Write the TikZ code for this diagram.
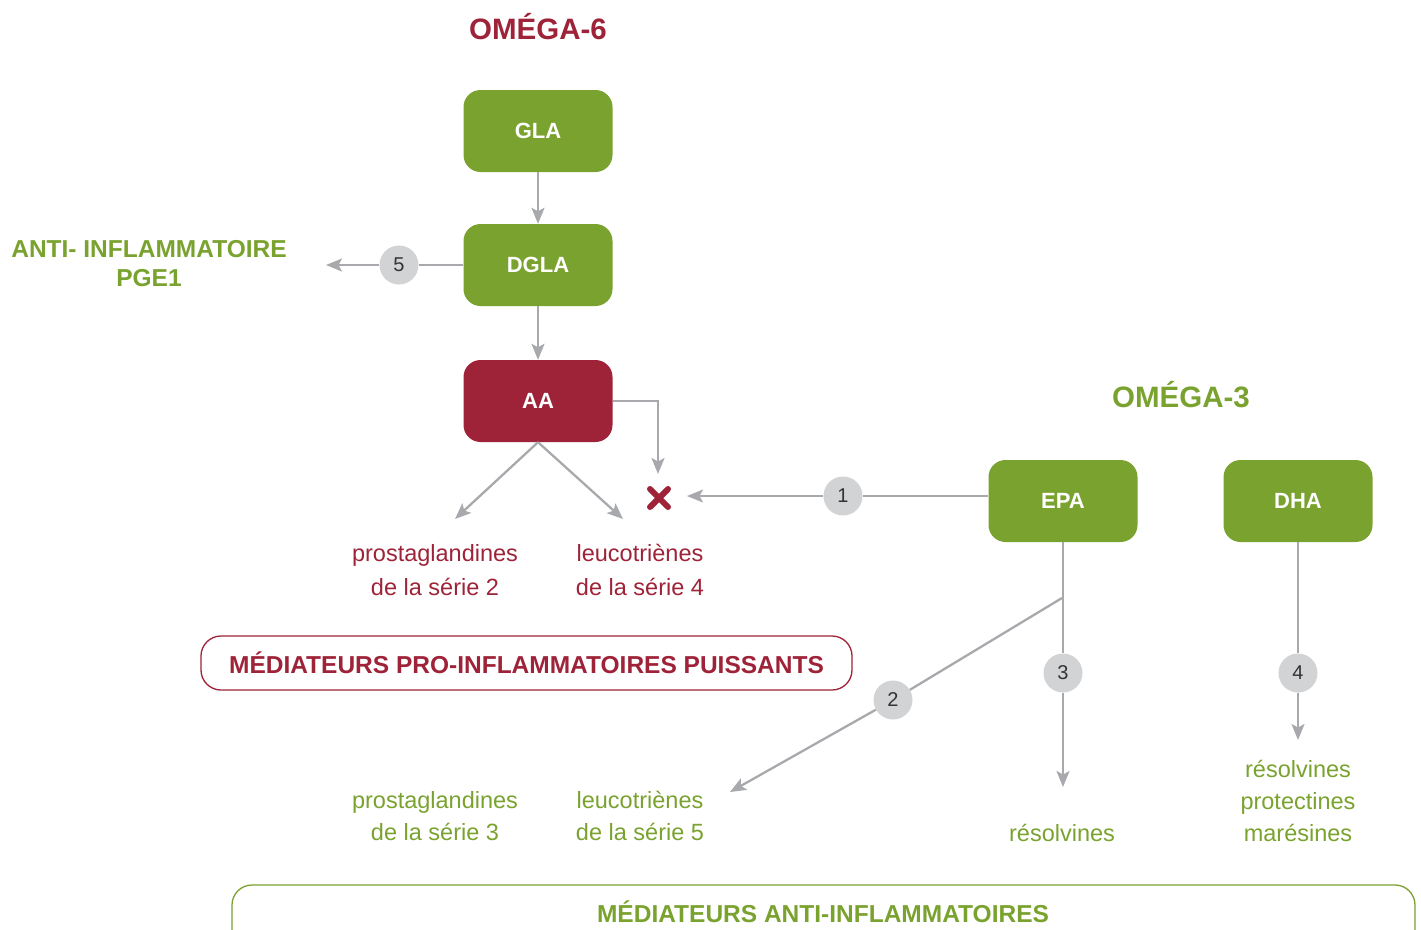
\documentclass[tikz,border=0pt]{standalone}
\usepackage{fontspec}
\setmainfont{Liberation Sans}
\usetikzlibrary{arrows.meta,shapes.misc}
\definecolor{ogreen}{HTML}{7AA22F}
\definecolor{ored}{HTML}{9E2338}
\definecolor{agray}{HTML}{A7A9AC}
\definecolor{cgray}{HTML}{D1D3D4}
\definecolor{numtxt}{HTML}{333333}
\begin{document}
\begin{tikzpicture}[x=1pt,y=-1pt,
  acid/.style={rounded corners=17pt, minimum width=149pt, minimum height=82pt, text=white, font=\bfseries\fontsize{22}{22}\selectfont, inner sep=0pt},
  gbox/.style={acid, fill=ogreen},
  rbox/.style={acid, fill=ored},
  num/.style={circle, fill=cgray, minimum size=39pt, inner sep=0pt, text=numtxt, font=\fontsize{20}{20}\selectfont},
  conn/.style={agray, line width=2.3pt},
  arr/.style={conn, -{Stealth[length=16pt,width=13pt,inset=3.5pt]}},
  title/.style={font=\bfseries\fontsize{29.5}{29.5}\selectfont},
  lbl/.style={font=\fontsize{23.5}{32}\selectfont, align=center},
  lblr/.style={font=\fontsize{23.5}{34}\selectfont, align=center},
  banner/.style={font=\bfseries\fontsize{24.5}{24.5}\selectfont}
]
\useasboundingbox (0,0) rectangle (1421,929);

% titles
\node[title, text=ored] (om6) at (538,27) {OMÉGA-6};
\node[title, text=ogreen] (om3) at (1181,395) {OMÉGA-3};

% acid boxes
\node[gbox] (gla) at (538,131) {GLA};
\node[gbox] (dgla) at (538,265) {DGLA};
\node[rbox] (aa) at (538,401) {AA};
\node[gbox] (epa) at (1063,501) {EPA};
\node[gbox] (dha) at (1298,501) {DHA};

% number circles
\node[num] (n5) at (399,265) {5};
\node[num] (n1) at (843,496) {1};
\node[num] (n2) at (893,700) {2};
\node[num] (n3) at (1063,673) {3};
\node[num] (n4) at (1298,673) {4};

% cross
\node[cross out, draw=ored, line width=6pt, line cap=round, minimum size=12pt, inner sep=0pt] (xm) at (659,498) {};

% free ends
\coordinate (t5) at (326,265);
\coordinate (xtop) at (658,474);
\coordinate (xright) at (687,496);
\coordinate (tpg2) at (455,519);
\coordinate (tlt4) at (623,519);
\coordinate (br) at (1062,598);
\coordinate (t2) at (730,792);
\coordinate (t3) at (1063,787);
\coordinate (t4) at (1298,740);

% connectors
\draw[arr] (gla.south) -- (dgla.north);
\draw[arr] (dgla.south) -- (aa.north);
\draw[conn] (dgla.west) -- (n5);
\draw[arr] (n5) -- (t5);
\draw[arr] (aa.east) -| (xtop);
\draw[arr] (aa.south) -- (tpg2);
\draw[arr] (aa.south) -- (tlt4);
\draw[conn] (n1 -| epa.west) -- (n1);
\draw[arr] (n1) -- (xright);
\draw[conn] (epa.south) -- (n3);
\draw[arr] (n3) -- (t3);
\draw[conn] (br) -- (n2);
\draw[arr] (n2) -- (t2);
\draw[conn] (dha.south) -- (n4);
\draw[arr] (n4) -- (t4);

% labels
\node[font=\bfseries\fontsize{24.5}{29}\selectfont, align=center, text=ogreen] (antiinf) at (149,264) {ANTI- INFLAMMATOIRE\\PGE1};
\node[lblr, text=ored] (pg2) at (435,570) {prostaglandines\\de la série 2};
\node[lblr, text=ored] (lt4) at (640,570) {leucotriènes\\de la série 4};
\node[lbl, text=ogreen] (pg3) at (435,816) {prostaglandines\\de la série 3};
\node[lbl, text=ogreen] (lt5) at (640,816) {leucotriènes\\de la série 5};
\node[lbl, text=ogreen] (res) at (1062,833) {résolvines};
\node[lbl, text=ogreen] (rpm) at (1298,801) {résolvines\\protectines\\marésines};

% banners
\node[banner, text=ored, draw=ored, line width=1.3pt, rounded corners=20pt, minimum width=651pt, minimum height=54pt] (pro) at (526.5,663) {MÉDIATEURS PRO-INFLAMMATOIRES PUISSANTS};
\draw[ogreen, line width=1.3pt, rounded corners=20pt] (232,960) -- (232,885) -- (1415,885) -- (1415,960);
\node[banner, text=ogreen] (anti) at (823,912) {MÉDIATEURS ANTI-INFLAMMATOIRES};
\end{tikzpicture}
\end{document}
